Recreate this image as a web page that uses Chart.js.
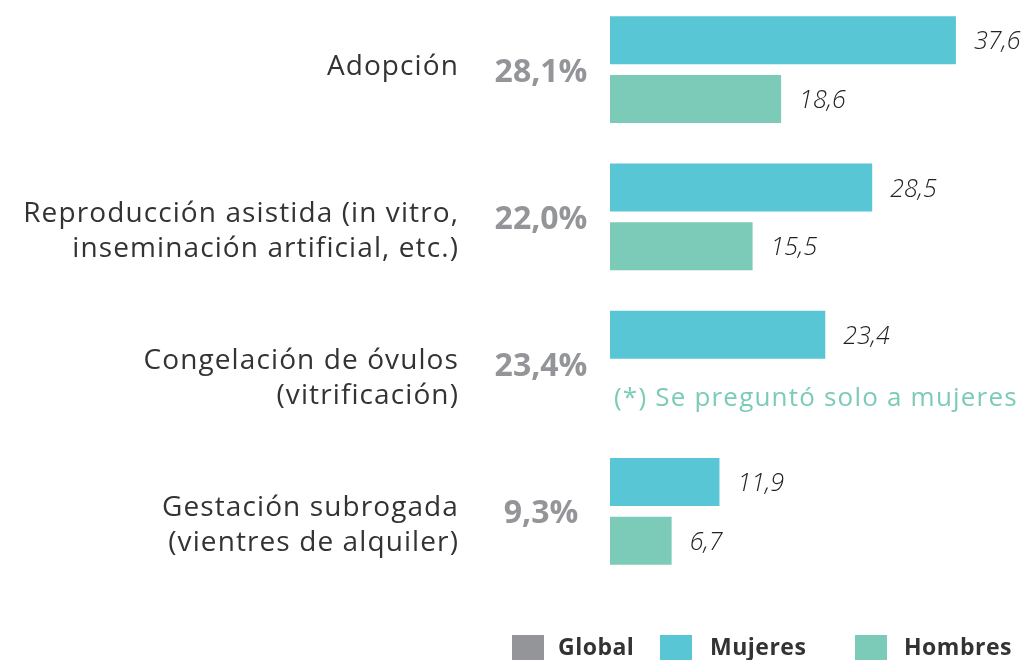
<!DOCTYPE html>
<html lang="es">
<head>
<meta charset="utf-8">
<title>Técnicas de reproducción</title>
<script src="https://cdn.jsdelivr.net/npm/chart.js@4.4.1/dist/chart.umd.min.js"></script>
<style>
  html, body { margin: 0; padding: 0; background: #ffffff; }
  #wrap { width: 1026px; height: 660px; position: relative; overflow: hidden; }
  #chart { position: absolute; left: 0; top: -4px; }
</style>
</head>
<body>
<div id="wrap"><canvas id="chart" width="1026" height="664"></canvas></div>
<script>
// Categorías (cada etiqueta puede ocupar varias líneas)
const categories = [
  ["Adopción"],
  ["Reproducción asistida (in vitro,", "inseminación artificial, etc.)"],
  ["Congelación de óvulos", "(vitrificación)"],
  ["Gestación subrogada", "(vientres de alquiler)"]
];
// Porcentaje global por técnica
const globalPct = [28.1, 22.0, 23.4, 9.3];
// Porcentajes por sexo
const mujeres = [37.6, 28.5, 23.4, 11.9];
const hombres = [18.6, 15.5, null, 6.7];
// Leyenda y nota
const legendItems = ["Global", "Mujeres", "Hombres"];
const noteText = "(*) Se preguntó solo a mujeres";

const COLOR_GLOBAL = "#939598";
const COLOR_MUJERES = "#58c6d5";
const COLOR_HOMBRES = "#7bcbb8";
const TEXT_DARK = "#333333";
const FONT = '"Open Sans", "Noto Sans", sans-serif';

const fmt = v => v.toFixed(1).replace(".", ",");

// Textos laterales, etiquetas de valor, nota y leyenda
const annotations = {
  id: "annotations",
  afterDatasetsDraw(chart) {
    const ctx = chart.ctx;
    const yScale = chart.scales.y;
    ctx.save();
    ctx.textBaseline = "middle";

    // Etiquetas de valor a la derecha de cada barra
    ctx.font = "italic 300 25px " + FONT;
    ctx.letterSpacing = "0px";
    ctx.fillStyle = "#222222";
    ctx.textAlign = "left";
    chart.data.datasets.forEach((ds, di) => {
      const meta = chart.getDatasetMeta(di);
      meta.data.forEach((bar, i) => {
        const v = ds.data[i];
        if (v === null || v === undefined) return;
        ctx.fillText(fmt(v), bar.x + 18, bar.y + 2);
      });
    });

    // Nota en el hueco de la barra de hombres
    const hMeta = chart.getDatasetMeta(1);
    const noteIdx = hombres.findIndex(v => v === null);
    if (noteIdx >= 0) {
      const slot = hMeta.data[noteIdx];
      ctx.font = "400 26px " + FONT;
      ctx.letterSpacing = "1.2px";
      ctx.fillStyle = COLOR_HOMBRES;
      ctx.textAlign = "left";
      ctx.fillText(noteText, chart.chartArea.left + 4, slot.y + 5);
    }

    // Etiquetas de categoría (alineadas a la derecha)
    ctx.font = "400 28px " + FONT;
    ctx.letterSpacing = "1.1px";
    ctx.fillStyle = TEXT_DARK;
    ctx.textAlign = "right";
    categories.forEach((lines, i) => {
      const cy = yScale.getPixelForValue(i);
      const lh = 35;
      const y0 = cy - 3;
      lines.forEach((line, k) => ctx.fillText(line, 459, y0 + k * lh));
    });

    // Porcentaje global
    ctx.font = "700 32px " + FONT;
    ctx.letterSpacing = "0px";
    ctx.fillStyle = COLOR_GLOBAL;
    ctx.textAlign = "center";
    globalPct.forEach((v, i) => {
      const cy = yScale.getPixelForValue(i);
      ctx.fillText(fmt(v) + "%", 541, cy + 3);
    });

    // Leyenda
    const legendColors = [COLOR_GLOBAL, COLOR_MUJERES, COLOR_HOMBRES];
    const boxX = [512, 660, 855];
    const textX = [558, 710, 904];
    ctx.font = "700 23px " + FONT;
    ctx.letterSpacing = "0.5px";
    ctx.textAlign = "left";
    legendItems.forEach((name, i) => {
      ctx.fillStyle = legendColors[i];
      ctx.fillRect(boxX[i], 639, 32, 32);
      ctx.fillStyle = TEXT_DARK;
      ctx.fillText(name, textX[i], 652);
    });

    ctx.restore();
  }
};

new Chart(document.getElementById("chart"), {
  type: "bar",
  data: {
    labels: categories,
    datasets: [
      { label: "Mujeres", data: mujeres, backgroundColor: COLOR_MUJERES,
        barPercentage: 0.8136, categoryPercentage: 0.801 },
      { label: "Hombres", data: hombres, backgroundColor: COLOR_HOMBRES,
        barPercentage: 0.8136, categoryPercentage: 0.801 }
    ]
  },
  options: {
    indexAxis: "y",
    responsive: false,
    animation: false,
    layout: { padding: { left: 610, right: 48, top: 0, bottom: 75 } },
    scales: {
      x: { min: 0, max: 40, display: false, grid: { display: false } },
      y: { display: false, grid: { display: false } }
    },
    plugins: {
      legend: { display: false },
      tooltip: { enabled: false }
    }
  },
  plugins: [annotations]
});
</script>
</body>
</html>
